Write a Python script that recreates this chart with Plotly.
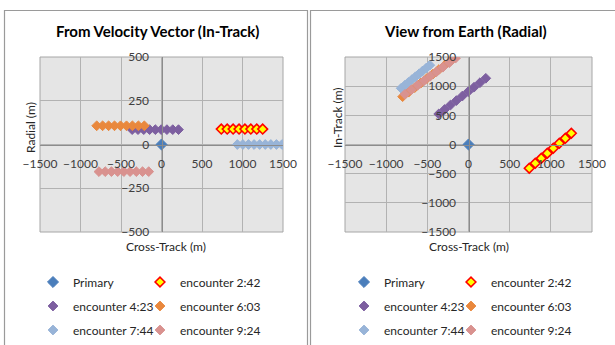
import plotly.graph_objects as go

W, H = 615, 345

# ---------------- data ----------------
series_names = ["Primary", "encounter 2:42", "encounter 4:23",
                "encounter 6:03", "encounter 7:44", "encounter 9:24"]

# Cross-track (m)
cross_primary = [0]
cross_242 = [738, 811, 884, 957, 1030, 1103, 1176, 1249]
cross_423 = [-362, -290, -219, -147, -76, -4, 67, 139, 210]
cross_603 = [-800, -727, -653, -580, -506, -432, -359, -285, -212]
cross_744 = [936, 1005, 1074, 1143, 1212, 1281, 1350, 1419, 1488]
cross_924 = [-772, -695, -618, -541, -465, -388, -311, -234, -158]
# cross-track of encounter 7:44 as plotted in the "View from Earth" chart
cross_744_earth = [-818, -774, -731, -687, -644, -600, -557, -513, -470]

# Radial (m)
radial_primary = [0]
radial_242 = [88, 88, 88, 88, 88, 88, 88, 88]
radial_423 = [85, 85, 85, 85, 85, 85, 85, 85, 85]
radial_603 = [107, 107, 107, 107, 107, 107, 107, 107, 107]
radial_744 = [0, 0, 0, 0, 0, 0, 0, 0, 0]
radial_924 = [-155, -155, -155, -155, -155, -155, -155, -155, -155]

# In-track (m)
in_primary = [0]
in_242 = [-408, -322, -237, -151, -65, 21, 106, 192]
in_423 = [523, 600, 676, 753, 829, 906, 982, 1059, 1135]
in_603 = [820, 897, 975, 1052, 1130, 1207, 1285, 1362, 1440]
in_744 = [964, 1014, 1063, 1113, 1162, 1212, 1261, 1311, 1360]
in_924 = [860, 937, 1015, 1092, 1170, 1247, 1325, 1402, 1480]

x_ticks = [-1500, -1000, -500, 0, 500, 1000, 1500]
y_ticks_left = [-500, -250, 0, 250, 500]
y_ticks_right = [-1500, -1000, -500, 0, 500, 1000, 1500]

# ---------------- styles ----------------
colors = ["#4A7EBB", "#FFFF00", "#7D5FA0", "#E9883D", "#98B4D8", "#D9928F"]
line_colors = ["#4A7EBB", "#FF0000", "#7D5FA0", "#E9883D", "#98B4D8", "#D9928F"]
sizes = [8.5, 7.5, 7.5, 7.5, 7.5, 7.5]
line_widths = [1, 1.6, 1, 1, 1, 1]
legend_widths = [62, 110, 62, 110, 62, 110]

FONT = "Lato"
TXT = "#262626"


def px_x(p):
    return p / W


def px_y(p):
    return 1 - p / H


fig = go.Figure()

left_data = [(cross_primary, radial_primary), (cross_242, radial_242),
             (cross_423, radial_423), (cross_603, radial_603),
             (cross_744, radial_744), (cross_924, radial_924)]
right_data = [(cross_primary, in_primary), (cross_242, in_242),
              (cross_423, in_423), (cross_603, in_603),
              (cross_744_earth, in_744), (cross_924, in_924)]

left_legends = ["legend", "legend", "legend2", "legend2", "legend3", "legend3"]
right_legends = ["legend4", "legend4", "legend5", "legend5", "legend6", "legend6"]

for panel, data, legs, xa, ya in [(0, left_data, left_legends, "x", "y"),
                                  (1, right_data, right_legends, "x2", "y2")]:
    for i, (xs, ys) in enumerate(data):
        fig.add_trace(go.Scatter(
            x=xs, y=ys, mode="markers", name=series_names[i],
            marker=dict(symbol="diamond", size=sizes[i], color=colors[i],
                        line=dict(color=line_colors[i], width=line_widths[i])),
            xaxis=xa, yaxis=ya, legend=legs[i],
            legendwidth=legend_widths[i]))

# plot area geometry (pixels)
L_X0, L_X1 = 40, 283
R_X0, R_X1 = 345, 592
P_Y0, P_Y1 = 57, 232

ydom = [px_y(P_Y1), px_y(P_Y0)]
xdom_l = [px_x(L_X0), px_x(L_X1)]
xdom_r = [px_x(R_X0), px_x(R_X1)]
ymid = sum(ydom) / 2

GRID = "#B2B2B2"
AXL = "#8C8C8C"
tickfont = dict(family=FONT, size=12, color="#404040")

common_x = dict(range=[-1500, 1500], tickvals=x_ticks, showgrid=True,
                gridcolor=GRID, gridwidth=1, zeroline=False, showline=True,
                linecolor=AXL, linewidth=1, ticks="", tickfont=tickfont,
                anchor="free", position=ymid, ticklabelstandoff=8,
                automargin=False, fixedrange=True)
common_y = dict(showgrid=True, gridcolor=GRID, gridwidth=1, zeroline=False,
                showline=True, linecolor=AXL, linewidth=1, ticks="",
                tickfont=tickfont, anchor="free", ticklabelstandoff=10,
                automargin=False, fixedrange=True)

legend_common = dict(orientation="h", xanchor="left", yanchor="middle",
                     bgcolor="rgba(0,0,0,0)",
                     font=dict(family=FONT, size=12, color=TXT),
                     itemwidth=30, tracegroupgap=0)

rows_y = [282, 306, 330]
leg_x_left = 33
leg_x_right = 344

layout_legends = {}
names = ["legend", "legend2", "legend3", "legend4", "legend5", "legend6"]
for k, nm in enumerate(names):
    lx = leg_x_left if k < 3 else leg_x_right
    ly = rows_y[k % 3]
    layout_legends[nm] = dict(legend_common, x=px_x(lx), y=px_y(ly))

fig.update_layout(
    width=W, height=H,
    margin=dict(l=0, r=0, t=0, b=0, pad=0, autoexpand=False),
    paper_bgcolor="white",
    plot_bgcolor="#E5E5E5",
    showlegend=True,
    xaxis=dict(common_x, domain=xdom_l),
    yaxis=dict(common_y, domain=ydom, range=[-500, 500], tickvals=y_ticks_left,
               position=sum(xdom_l) / 2),
    xaxis2=dict(common_x, domain=xdom_r),
    yaxis2=dict(common_y, domain=ydom, range=[-1500, 1500],
                tickvals=y_ticks_right, position=sum(xdom_r) / 2),
    **layout_legends,
)

# annotations: titles and axis titles
ann = [
    dict(text="<b>From Velocity Vector (In-Track)</b>", x=px_x(157), y=px_y(31),
         font=dict(family=FONT, size=15, color="#000000")),
    dict(text="<b>View from Earth (Radial)</b>", x=px_x(465), y=px_y(31),
         font=dict(family=FONT, size=15, color="#000000")),
    dict(text="Cross-Track (m)", x=px_x(166), y=px_y(246),
         font=dict(family=FONT, size=12, color=TXT)),
    dict(text="Cross-Track (m)", x=px_x(469), y=px_y(246),
         font=dict(family=FONT, size=12, color=TXT)),
    dict(text="Radial (m)", x=px_x(30), y=px_y(128), textangle=-90,
         font=dict(family=FONT, size=12, color=TXT)),
    dict(text="In-Track (m)", x=px_x(337), y=px_y(118), textangle=-90,
         font=dict(family=FONT, size=12, color=TXT)),
]
for a in ann:
    fig.add_annotation(xref="paper", yref="paper", showarrow=False,
                       xanchor="center", yanchor="middle", **a)

# plot area borders
for xr, yr in [("x domain", "y domain"), ("x2 domain", "y2 domain")]:
    fig.add_shape(type="rect", xref=xr, yref=yr, x0=0, x1=1, y0=0, y1=1,
                  line=dict(color="#A6A6A6", width=1), layer="below")

# chart frames
FRAME = "#9A9A9A"
fig.add_shape(type="rect", xref="paper", yref="paper",
              x0=px_x(4.5), x1=px_x(307.5), y0=px_y(360), y1=px_y(10.5),
              line=dict(color=FRAME, width=1.2))
fig.add_shape(type="rect", xref="paper", yref="paper",
              x0=px_x(310.5), x1=px_x(630), y0=px_y(360), y1=px_y(10.5),
              line=dict(color=FRAME, width=1.2))

fig.write_html("out.html",
               config={"displayModeBar": False},
               post_script="document.body.style.margin='0';"
                           "document.body.style.overflow='hidden';")
